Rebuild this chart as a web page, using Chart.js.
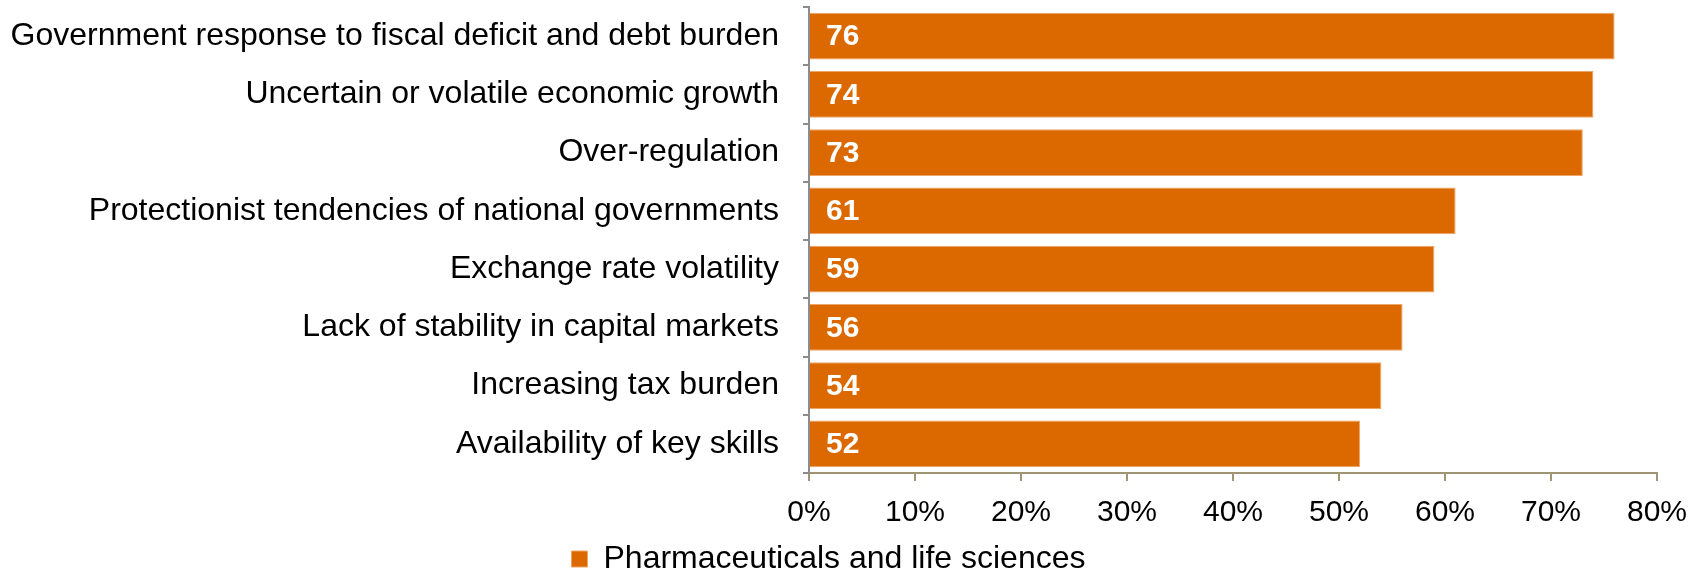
<!DOCTYPE html>
<html>
<head>
<meta charset="utf-8">
<script src="https://cdn.jsdelivr.net/npm/chart.js@4/dist/chart.umd.min.js"></script>
<style>
  html, body { margin: 0; padding: 0; background: #fff; overflow: hidden; }
  /* canvas runs a little past the window so the legend row sits low */
  #wrap { width: 1702px; height: 585px; }
</style>
</head>
<body>
<div id="wrap"><canvas id="riskChart"></canvas></div>
<script>
const categories = [
    'Government response to fiscal deficit and debt burden',
    'Uncertain or volatile economic growth',
    'Over-regulation',
    'Protectionist tendencies of national governments',
    'Exchange rate volatility',
    'Lack of stability in capital markets',
    'Increasing tax burden',
    'Availability of key skills'
];
const pharmaValues = [76, 74, 73, 61, 59, 56, 54, 52];
const seriesName = 'Pharmaceuticals and life sciences';
const xTicks = [0, 10, 20, 30, 40, 50, 60, 70, 80];

const ORANGE = '#DC6900';
const FONT = '"Liberation Sans", Arial, sans-serif';

// white value labels inside the left end of each bar
const barValueLabels = {
    id: 'barValueLabels',
    afterDatasetsDraw(chart) {
        const ctx = chart.ctx;
        const meta = chart.getDatasetMeta(0);
        ctx.save();
        ctx.fillStyle = '#fff';
        ctx.font = 'bold 30px ' + FONT;
        ctx.textAlign = 'left';
        ctx.textBaseline = 'middle';
        meta.data.forEach(function(bar, i) {
            ctx.fillText(String(pharmaValues[i]), bar.base + 16, bar.y + 1);
        });
        ctx.restore();
    }
};

const ctx = document.getElementById('riskChart').getContext('2d');
new Chart(ctx, {
    type: 'bar',
    data: {
        labels: categories,
        datasets: [{
            label: seriesName,
            data: pharmaValues,
            backgroundColor: ORANGE,
            borderColor: '#EFA565',
            borderWidth: 1,
            borderSkipped: 'start',
            categoryPercentage: 1,
            barPercentage: 0.8
        }]
    },
    options: {
        indexAxis: 'y',
        responsive: true,
        maintainAspectRatio: false,
        animation: false,
        layout: { padding: { top: 7, right: 45, left: 0, bottom: 0 } },
        plugins: {
            legend: {
                position: 'bottom',
                labels: {
                    color: '#000',
                    font: { family: FONT, size: 32 },
                    boxWidth: 16,
                    boxHeight: 16,
                    padding: 0
                }
            },
            tooltip: { enabled: false }
        },
        scales: {
            x: {
                min: 0,
                max: 80,
                afterBuildTicks(scale) {
                    scale.ticks = xTicks.map(function(v) { return { value: v }; });
                },
                ticks: {
                    color: '#000',
                    font: { family: FONT, size: 30 },
                    padding: 14,
                    callback: function(v) { return v + '%'; }
                },
                grid: {
                    drawOnChartArea: false,
                    color: '#A09473',
                    lineWidth: 2,
                    tickLength: 8
                },
                border: { color: '#A09473', width: 2 },
                afterFit(scale) { scale.height = 70; }
            },
            y: {
                ticks: {
                    color: '#000',
                    font: { family: FONT, size: 32 },
                    padding: 24
                },
                grid: {
                    offset: true,
                    drawOnChartArea: false,
                    color: '#8C8C8C',
                    lineWidth: 2,
                    tickLength: 6
                },
                border: { color: '#8C8C8C', width: 2 },
                afterFit(scale) {
                    scale.width = 809;
                    // labels sit between the offset ticks, no extra room needed above/below
                    scale.paddingTop = 0;
                    scale.paddingBottom = 0;
                }
            }
        }
    },
    plugins: [barValueLabels]
});
</script>
</body>
</html>
